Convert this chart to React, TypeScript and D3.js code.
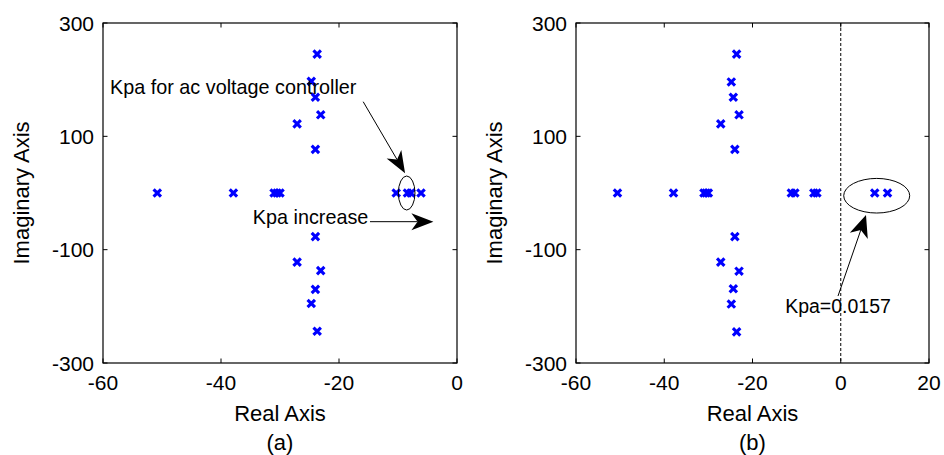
import React from 'react';
import * as d3 from 'd3';

// ---- data ----
const xTicksA = [-60, -40, -20, 0];
const xTicksB = [-60, -40, -20, 0, 20];
const yTicks = [300, 100, -100, -300];

// (a) poles
const polesARe = [-23.7, -24.7, -24.0, -23.1, -27.1, -24.0, -24.0, -27.1, -23.1, -24.0, -24.7, -23.7,
  -50.8, -37.9, -31.0, -30.5, -30.0, -10.3, -8.4, -7.8, -6.1];
const polesAIm = [245, 197, 169, 138, 122, 77, -77, -122, -137, -170, -195, -244,
  0, 0, 0, 0, 0, 0, 0, 0, 0];

// (b) poles
const polesBRe = [-23.6, -24.8, -24.35, -23.05, -27.2, -24.0, -24.0, -27.2, -23.05, -24.35, -24.8, -23.6,
  -50.6, -37.9, -31.0, -30.5, -30.0, -11.2, -10.4, -6.1, -5.4, 7.7, 10.6];
const polesBIm = [245, 196, 169, 138, 122, 77, -77, -122, -138, -169, -196, -245,
  0, 0, 0, 0, 0, 0, 0, 0, 0, 0, 0];

const FONT = '"Liberation Sans", Arial, Helvetica, sans-serif';
const Y0 = 23;
const Y1 = 363;

type Pt = [number, number];

function Arrow({ from, to, len = 22, half = 8.5 }: { from: Pt; to: Pt; len?: number; half?: number }) {
  const dx = to[0] - from[0];
  const dy = to[1] - from[1];
  const L = Math.hypot(dx, dy);
  const ux = dx / L, uy = dy / L;
  const px = -uy, py = ux;
  const bx = to[0] - ux * len, by = to[1] - uy * len;
  const nx = to[0] - ux * len * 0.72, ny = to[1] - uy * len * 0.72;
  const head = `M${to[0]},${to[1]} L${bx + px * half},${by + py * half} L${nx},${ny} L${bx - px * half},${by - py * half} Z`;
  return (
    <g>
      <line x1={from[0]} y1={from[1]} x2={nx} y2={ny} stroke="#000" strokeWidth={1} />
      <path d={head} fill="#000" />
    </g>
  );
}

function Panel({ x0, x1, domain, xTicks, re, im, caption, annot }: any) {
  const x = d3.scaleLinear().domain(domain).range([x0, x1]);
  const y = d3.scaleLinear().domain([-300, 300]).range([Y1, Y0]);
  const cx = (x0 + x1) / 2;
  const cy = (Y0 + Y1) / 2;
  const tl = 4.5;
  const m = 3.7;
  return (
    <g fontFamily={FONT}>
      <rect x={x0} y={Y0} width={x1 - x0} height={Y1 - Y0} fill="#fff" stroke="none" />
      {annot && annot.before ? annot.before(x, y) : null}
      {/* ticks */}
      {xTicks.map((t: number) => (
        <g key={'xt' + t}>
          <line x1={x(t)} x2={x(t)} y1={Y1} y2={Y1 - tl} stroke="#000" />
          <line x1={x(t)} x2={x(t)} y1={Y0} y2={Y0 + tl} stroke="#000" />
          <text x={x(t)} y={390} fontSize={21} textAnchor="middle">{t}</text>
        </g>
      ))}
      {yTicks.map((t: number) => (
        <g key={'yt' + t}>
          <line x1={x0} x2={x0 + tl} y1={y(t)} y2={y(t)} stroke="#000" />
          <line x1={x1} x2={x1 - tl} y1={y(t)} y2={y(t)} stroke="#000" />
          <text x={x0 - 9} y={y(t)} dy="0.36em" fontSize={21} textAnchor="end">{t}</text>
        </g>
      ))}
      {/* poles */}
      {re.map((r: number, i: number) => {
        const px = x(r), py = y(im[i]);
        return (
          <path key={'p' + i}
            d={`M${px - m},${py - m}L${px + m},${py + m}M${px - m},${py + m}L${px + m},${py - m}`}
            stroke="#0000ff" strokeWidth={3.1} fill="none" />
        );
      })}
      {annot ? annot.after(x, y) : null}
      <rect x={x0} y={Y0} width={x1 - x0} height={Y1 - Y0} fill="none" stroke="#000" strokeWidth={1.2} />
      <text x={cx} y={421} fontSize={22} textAnchor="middle">Real Axis</text>
      <text x={cx} y={450} fontSize={22} textAnchor="middle">{caption}</text>
      <text transform={`translate(${x0 - 74.5},${cy}) rotate(-90)`} fontSize={22} textAnchor="middle">Imaginary Axis</text>
    </g>
  );
}

const annotA = {
  after: (x: any, y: any) => (
    <g fontFamily={FONT}>
      <ellipse cx={x(-8.53)} cy={y(0)} rx={8.3} ry={17} fill="none" stroke="#000" strokeWidth={1} />
      <text x={x(-58.8)} y={y(174.7)} fontSize={19.8}>Kpa for ac voltage controller</text>
      <Arrow from={[x(-15.9), y(161.1)]} to={[x(-8.8), y(34.8)]} />
      <text x={x(-34.6)} y={y(-55)} fontSize={19.8}>Kpa increase</text>
      <Arrow from={[x(-14.75), y(-50.6)]} to={[x(-4.0), y(-50.6)]} />
    </g>
  ),
};

const annotB = {
  before: (x: any, y: any) => (
    <line x1={x(0)} x2={x(0)} y1={y(300)} y2={y(-300)} stroke="#000" strokeWidth={1} strokeDasharray="3,2" />
  ),
  after: (x: any, y: any) => (
    <g fontFamily={FONT}>
      <ellipse cx={x(8.15)} cy={y(-4.8)} rx={33} ry={17.3} fill="none" stroke="#000" strokeWidth={1} />
      <text x={x(-12.6)} y={y(-211.8)} fontSize={19.5}>Kpa=0.0157</text>
      <Arrow from={[x(-0.62), y(-181.8)]} to={[x(5.72), y(-38.8)]} half={9.5} />
    </g>
  ),
};

export default function App() {
  return (
    <svg width={944} height={455} style={{ position: 'absolute', left: 0, top: 0, background: '#fff' }}>
      <rect width={944} height={455} fill="#fff" />
      <Panel x0={103} x1={457} domain={[-60, 0]} xTicks={xTicksA} re={polesARe} im={polesAIm} caption="(a)" annot={annotA} />
      <Panel x0={576} x1={929} domain={[-60, 20]} xTicks={xTicksB} re={polesBRe} im={polesBIm} caption="(b)" annot={annotB} />
    </svg>
  );
}
